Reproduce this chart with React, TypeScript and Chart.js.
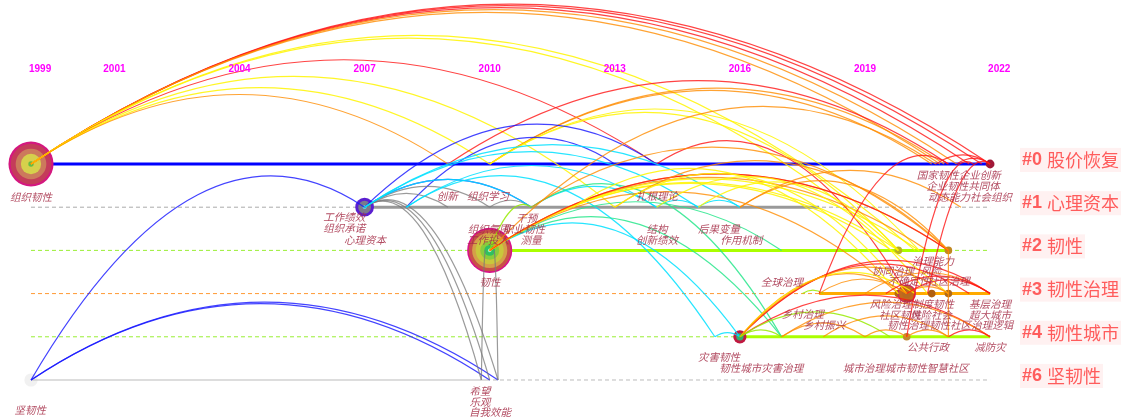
import React, { useEffect, useRef } from "react";
import { Chart, registerables } from "chart.js";
Chart.register(...registerables);

// ---------- data ----------
const yearTicks = [1999, 2001, 2004, 2007, 2010, 2013, 2016, 2019, 2022];
const clusterIds = ["#0", "#1", "#2", "#3", "#4", "#6"];
const clusterNames = ["股价恢复", "心理资本", "韧性", "韧性治理", "韧性城市", "坚韧性"];
const rowStart = 1999;
const rowEnd = 2022;
const activeStart = [1999, 2007, 2010, 2017.9, 2016, 1999];
const activeEnd = [2022, 2017.9, 2021, 2022, 2022, 2010];

const nodeYear = [1999, 2007, 2010, 2020, 2016, 2022, 2019.8, 2021, 2019.8, 2020.6, 2021, 2020, 1999];
const nodeRow = [0, 1, 2, 3, 4, 0, 2, 2, 3, 3, 3, 4, 5];
const nodeFreq = [105, 18, 105, 18, 9, 4, 3, 3, 3, 3, 3, 3, 9];

const labelText = [
  "组织韧性", "国家韧性企业创新", "企业韧性共同体", "动态能力社会组织",
  "工作绩效", "组织承诺", "心理资本", "创新", "组织学习", "扎根理论",
  "干预", "组织氛围", "职业韧性", "工作投入", "测量", "结构", "创新绩效", "后果变量", "作用机制", "韧性",
  "治理能力", "协同治理", "风险", "不确定性", "社区治理", "全球治理",
  "风险治理", "制度韧性", "基层治理", "社区韧性", "风险社会", "超大城市", "韧性治理", "韧性社区", "治理逻辑",
  "乡村治理", "乡村振兴", "公共行政", "减防灾", "灾害韧性", "韧性城市灾害治理", "城市治理城市韧性智慧社区",
  "坚韧性", "希望", "乐观", "自我效能",
];
const labelYear = [
  1999.0, 2021.25, 2021.35, 2021.52,
  2006.51, 2006.51, 2007.01, 2008.98, 2009.96, 2014.01,
  2010.89, 2009.98, 2010.82, 2009.96, 2010.99, 2014.01, 2014.01, 2015.5, 2016.03, 2010.01,
  2020.63, 2019.67, 2020.58, 2020.05, 2021.01, 2017.01,
  2019.62, 2020.63, 2022.0, 2019.84, 2020.58, 2022.0, 2020.03, 2021.04, 2022.05,
  2017.51, 2018.02, 2020.51, 2022.0, 2015.5, 2016.51, 2019.98,
  1998.98, 2009.77, 2009.77, 2010.01,
];
const labelRow = [
  0.764, 0.255, 0.509, 0.764,
  1.227, 1.481, 1.759, 0.741, 0.741, 0.741,
  1.25, 1.505, 1.505, 1.759, 1.759, 1.505, 1.759, 1.505, 1.759, 2.731,
  2.245, 2.477, 2.477, 2.708, 2.708, 2.731,
  3.241, 3.241, 3.241, 3.495, 3.495, 3.495, 3.727, 3.727, 3.727,
  3.472, 3.727, 4.236, 4.236, 4.468, 4.722, 4.722,
  5.694, 5.255, 5.509, 5.741,
];

// [fromYear, fromRow, toYear, toRow, year the link appeared]
const links: [number, number, number, number, number][] = [
  [1999, 0, 2022, 0, 2021], [1999, 0, 2021.8, 0, 2021], [1999, 0, 2021.5, 0, 2021],
  [1999, 0, 2021.2, 0, 2019], [1999, 0, 2020.8, 0, 2019],
  [1999, 0, 2019.8, 2, 2017], [1999, 0, 2020.2, 2, 2017],
  [1999, 0, 2014, 0, 2021], [1999, 0, 2013, 1, 2017], [1999, 0, 2010, 0, 2017], [1999, 0, 2009, 0, 2019],
  [2009, 0, 2021, 0, 2021], [2010, 0, 2020.6, 0, 2019], [2010, 0, 2020.9, 0, 2019],
  [2010, 0, 2019.8, 2, 2017], [2010, 0, 2020.3, 2, 2017], [2014, 0, 2020, 3, 2021],
  [2020.7, 0, 2022, 0, 2021], [2021.2, 0, 2022, 0, 2021],
  [2007, 1, 2014, 0, 2008], [2007, 1, 2011, 1, 2008], [2008, 1, 2013, 0, 2008],
  [1999, 5, 2007, 1, 2008], [1999, 5, 2010, 5, 2008], [1999, 5, 2010.2, 5, 2008],
  [2007, 1, 2009.8, 5, 2009], [2007, 1, 2010, 5, 2009], [2007, 1, 2010.2, 5, 2009],
  [2007, 1, 2010, 1, 2009], [2007, 1, 2009, 1, 2009], [2010, 1, 2011, 1, 2009],
  [2009.9, 2, 2009.8, 5, 2009], [2010.1, 2, 2010.2, 5, 2009],
  [2007, 1, 2011, 1, 2011], [2007, 1, 2015, 1, 2011], [2007, 1, 2016, 1, 2011], [2008, 1, 2014, 1, 2011],
  [2011, 1, 2014, 1, 2011], [2014, 1, 2015, 1, 2011], [2015, 1, 2016, 1, 2011],
  [2008, 1, 2015.4, 4, 2011], [2010, 2, 2016, 4, 2011], [2015.4, 4, 2016, 4, 2011],
  [2010, 2, 2017, 2, 2013], [2010, 2, 2017, 4, 2013], [2011, 1, 2017, 4, 2013],
  [2010, 2, 2011, 1, 2015],
  [2010, 2, 2021, 2, 2019], [2010, 2, 2020.5, 2, 2019], [2010, 2, 2019.8, 3, 2019],
  [2010, 2, 2019.8, 2, 2017], [2010, 2, 2020.3, 2, 2017], [2010, 2, 2021, 3, 2017],
  [2010, 2, 2021, 2, 2021], [2010, 2, 2020.7, 0, 2019],
  [2011, 1, 2021, 2, 2019], [2013, 1, 2021, 2, 2019], [2014, 1, 2020.5, 3, 2017],
  [2015, 1, 2019.8, 2, 2017], [2016, 1, 2021, 2, 2019], [2016, 1, 2021.3, 1, 2019],
  [2012, 1, 2019.8, 3, 2017], [2013, 1, 2020, 3, 2017],
  [2016, 4, 2022, 3, 2021], [2016, 4, 2021.5, 3, 2021], [2016, 4, 2020, 3, 2019],
  [2016, 4, 2020.2, 3, 2017], [2016, 4, 2021, 3, 2019], [2016, 4, 2022, 4, 2021],
  [2016, 4, 2017, 4, 2015], [2016, 4, 2019.6, 4, 2015],
  [2017, 4, 2019, 4, 2019], [2017, 4, 2022, 4, 2019], [2019, 4, 2020, 4, 2019],
  [2018, 4, 2021, 4, 2019], [2020, 4, 2021, 4, 2019], [2021, 4, 2022, 4, 2021],
  [2017.5, 3, 2018, 3, 2015], [2017.9, 3, 2020, 3, 2019], [2019, 3, 2022, 3, 2019],
  [2020, 3, 2021, 3, 2019], [2020, 3, 2022, 3, 2021], [2019.5, 3, 2022, 3, 2021],
  [2021, 2, 2021, 4, 2019],
  [2017.9, 3, 2021, 0, 2021], [2020, 4, 2021.6, 0, 2021], [2020.5, 3, 2022, 0, 2021],
];

// ---------- styles ----------
const rowSolid = ["#0000ff", "#999999", "#aaff00", "#ffaa00", "#aaff00", "#dddddd"];
const rowDash = ["#0000ff", "#aaaaaa", "#99ee33", "#ff9933", "#99ee33", "#bbbbbb"];
const linkPalette: Record<number, string> = {
  2008: "rgba(20,20,255,0.8)",
  2009: "rgba(120,120,120,0.75)",
  2011: "rgba(0,225,255,0.85)",
  2013: "rgba(40,230,140,0.85)",
  2015: "rgba(150,235,0,0.85)",
  2017: "rgba(255,245,0,0.85)",
  2019: "rgba(255,140,0,0.8)",
  2021: "rgba(255,20,20,0.8)",
};
const nodeRings: [string, number][][] = [
  [["#d4177f", 1], ["#c43c5a", 0.9], ["#cc7a5c", 0.68], ["#d6d04c", 0.45], ["#66bb44", 0.12]],
  [["#5a1fd0", 1], ["#7a7a8a", 0.68], ["#60d0e0", 0.2]],
  [["#d8108a", 1], ["#c85048", 0.93], ["#d4a048", 0.78], ["#c8c83c", 0.62], ["#88cc3c", 0.42], ["#30c060", 0.24], ["#a0f0c0", 0.08]],
  [["#c82a60", 1], ["#c46a1c", 0.85], ["#b86a20", 0.5]],
  [["#c01840", 1], ["#30b070", 0.55]],
  [["#a01838", 1]],
  [["#b8b020", 1]],
  [["#c08820", 1]],
  [["#b46a10", 1]],
  [["#b06010", 1]],
  [["#b06a18", 1]],
  [["#c08a30", 1]],
  [["rgba(200,200,200,0.25)", 1]],
];

const X_MIN = 1998.2566;
const X_MAX = 2025.307;
const Y_MIN = -3.796;
const Y_MAX = 5.903;

const overlayPlugin = {
  id: "overlay",
  afterDatasetsDraw(chart: any) {
    const ctx = chart.ctx as CanvasRenderingContext2D;
    const xs = chart.scales.x;
    const ys = chart.scales.y;
    // arcs
    ctx.save();
    ctx.lineWidth = 1.2;
    for (const [fy, fr, ty, tr, ly] of links) {
      const x1 = xs.getPixelForValue(fy);
      const y1 = ys.getPixelForValue(fr);
      const x2 = xs.getPixelForValue(ty);
      const y2 = ys.getPixelForValue(tr);
      const cx = (x1 + x2) / 2;
      const cy = Math.min(y1, y2) - Math.abs(x2 - x1) / 3;
      ctx.strokeStyle = linkPalette[ly];
      ctx.beginPath();
      ctx.moveTo(x1, y1);
      ctx.quadraticCurveTo(cx, cy, x2, y2);
      ctx.stroke();
    }
    ctx.restore();

    // node labels
    ctx.save();
    ctx.font = 'italic 10.5px "Noto Sans CJK SC"';
    ctx.fillStyle = "rgba(165,45,70,0.85)";
    ctx.textAlign = "center";
    ctx.textBaseline = "middle";
    labelText.forEach((t, i) => {
      ctx.fillText(t, xs.getPixelForValue(labelYear[i]), ys.getPixelForValue(labelRow[i]));
    });
    ctx.restore();

    // year labels
    ctx.save();
    ctx.font = 'bold 10px "Liberation Sans"';
    ctx.fillStyle = "#ff00ff";
    ctx.textBaseline = "middle";
    yearTicks.forEach((y, i) => {
      const px = xs.getPixelForValue(y);
      if (i === 0 || i === yearTicks.length - 1) {
        ctx.textAlign = "left";
        ctx.fillText(String(y), px - 2, 69);
      } else {
        ctx.textAlign = "center";
        ctx.fillText(String(y), px, 69);
      }
    });
    ctx.restore();

    // cluster labels
    ctx.save();
    ctx.textBaseline = "middle";
    ctx.textAlign = "left";
    clusterIds.forEach((id, i) => {
      const cyPx = ys.getPixelForValue(i) - 4;
      const left = 1022;
      ctx.font = 'bold 18px "Liberation Sans"';
      const w1 = ctx.measureText(id + " ").width;
      ctx.font = '18px "Noto Sans CJK SC"';
      const w2 = ctx.measureText(clusterNames[i]).width;
      ctx.fillStyle = "rgba(255,200,200,0.25)";
      ctx.fillRect(left - 2, cyPx - 12, w1 + w2 + 4, 24);
      ctx.fillStyle = "rgba(255,50,50,0.78)";
      ctx.font = 'bold 18px "Liberation Sans"';
      ctx.fillText(id, left, cyPx);
      ctx.font = '18px "Noto Sans CJK SC"';
      ctx.fillText(clusterNames[i], left + w1, cyPx);
    });
    ctx.restore();
  },
};

export default function App() {
  const ref = useRef<HTMLCanvasElement>(null);
  useEffect(() => {
    const datasets: any[] = [];
    nodeYear.forEach((yr, i) => {
      const radius = 2.2 * Math.sqrt(nodeFreq[i]);
      datasets.push({
        type: "bubble",
        data: nodeRings[i].map(([, f]) => ({ x: yr, y: nodeRow[i], r: radius * f })),
        backgroundColor: nodeRings[i].map(([c]) => c),
        borderWidth: 0,
        order: 1,
      });
    });
    clusterIds.forEach((_, r) => {
      datasets.push({
        type: "line",
        data: [
          { x: activeStart[r], y: r },
          { x: activeEnd[r], y: r },
        ],
        borderColor: rowSolid[r],
        borderWidth: r === 5 ? 2 : 3,
        pointRadius: 0,
        fill: false,
        order: 5,
      });
      datasets.push({
        type: "line",
        data: [
          { x: rowStart, y: r },
          { x: rowEnd, y: r },
        ],
        borderColor: rowDash[r],
        borderWidth: 1,
        borderDash: [4, 3],
        pointRadius: 0,
        fill: false,
        order: 6,
      });
    });
    const chart = new Chart(ref.current as HTMLCanvasElement, {
      type: "bubble",
      data: { datasets },
      options: {
        responsive: false,
        animation: false,
        events: [],
        layout: { padding: 0, autoPadding: false },
        plugins: { legend: { display: false }, tooltip: { enabled: false } },
        scales: {
          x: { type: "linear", min: X_MIN, max: X_MAX, display: false },
          y: { type: "linear", min: Y_MIN, max: Y_MAX, reverse: true, display: false },
        },
      } as any,
      plugins: [overlayPlugin],
    });
    return () => chart.destroy();
  }, []);
  return (
    <div style={{ position: "fixed", left: 0, top: 0, width: 1128, height: 419, background: "#fff" }}>
      <canvas ref={ref} width={1128} height={419} style={{ display: "block" }} />
    </div>
  );
}
